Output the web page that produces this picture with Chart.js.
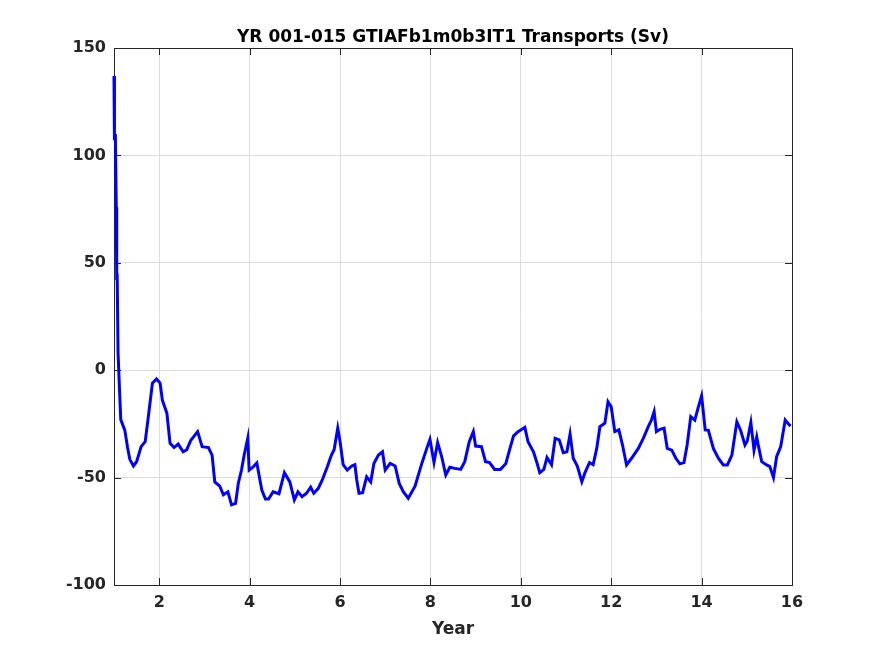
<!DOCTYPE html>
<html>
<head>
<meta charset="utf-8">
<script src="https://cdn.jsdelivr.net/npm/chart.js@4.4.0/dist/chart.umd.min.js"></script>
<style>
  body { margin: 0; background: #fff; }
  #wrap { width: 875px; height: 656px; }
</style>
</head>
<body>
<div id="wrap"><canvas id="myChart" width="875" height="656"></canvas></div>
<script>
// values
const years = [1.00, 1.01, 1.03, 1.05, 1.06, 1.07, 1.09, 1.12, 1.15, 1.24, 1.30, 1.35, 1.43, 1.50, 1.60, 1.69, 1.76, 1.85, 1.94,
  2.02, 2.07, 2.17, 2.24, 2.33, 2.42, 2.53, 2.61, 2.70, 2.85, 2.95, 3.09, 3.17, 3.23, 3.34, 3.42, 3.52, 3.60, 3.69, 3.75,
  3.82, 3.88, 3.96, 3.99, 4.08, 4.16, 4.27, 4.35, 4.42, 4.52, 4.65, 4.77, 4.89, 4.99, 5.07, 5.16, 5.26, 5.35, 5.42, 5.52,
  5.61, 5.72, 5.81, 5.87, 5.95, 6.00, 6.07, 6.16, 6.26, 6.33, 6.37, 6.42, 6.50, 6.59, 6.68, 6.75, 6.85, 6.94, 7.00, 7.11,
  7.22, 7.31, 7.40, 7.51, 7.66, 7.81, 7.92, 7.99, 8.08, 8.16, 8.25, 8.34, 8.43, 8.54, 8.67, 8.76, 8.86, 8.95, 9.00, 9.13,
  9.22, 9.31, 9.42, 9.55, 9.67, 9.76, 9.84, 9.94, 10.09, 10.16, 10.28, 10.35, 10.42, 10.51, 10.58, 10.68, 10.76, 10.85,
  10.94, 11.02, 11.09, 11.16, 11.25, 11.35, 11.42, 11.52, 11.60, 11.68, 11.75, 11.86, 11.93, 12.00, 12.08, 12.17, 12.25,
  12.34, 12.45, 12.60, 12.71, 12.82, 12.89, 12.95, 13.00, 13.08, 13.17, 13.24, 13.34, 13.43, 13.52, 13.61, 13.68, 13.76,
  13.85, 13.93, 14.00, 14.08, 14.15, 14.26, 14.37, 14.48, 14.57, 14.67, 14.78, 14.86, 14.96, 15.01, 15.09, 15.16, 15.22,
  15.26, 15.33, 15.44, 15.51, 15.59, 15.66, 15.75, 15.85, 15.94, 15.97];
const transport = [137, 107, 110, 76, 42, 45, 8, -8, -23, -28, -36, -41.5, -44.6, -42.6, -35.6, -33.3, -21.6, -6, -4.1,
  -6, -14, -20, -34, -36, -34.4, -38, -37, -32.6, -28.6, -35.6, -36, -39.5, -52, -54, -58, -56.6, -62.7, -62, -52.6,
  -46.5, -39.5, -31.6, -46.5, -45, -43.2, -55.8, -60, -60, -56.6, -57.5, -47.7, -52, -60.4, -56.6, -58.9, -57.3, -54.5, -57.3, -55,
  -51, -45, -39.5, -37, -27, -33, -44, -46.5, -44.6, -44, -51, -57.3, -57, -49.6, -52, -43.4, -39.5, -38, -46.5, -43.4,
  -44.6, -52.7, -56.6, -59.6, -54, -43.4, -36.4, -32.2, -43, -33.7, -40.3, -48.8, -45.2, -45.7, -46.2, -42.6, -33.3, -28.6, -35.3, -35.6,
  -42.6, -43, -46.2, -46.2, -43.4, -36.4, -30.6, -28.6, -26.6, -33.3, -38, -42.6, -47.7, -46.2, -40.6, -44, -31.7, -32.4,
  -38.4, -38, -29.7, -41, -44.6, -51.9, -47.7, -43, -44, -36.4, -26.3, -24.7, -14.7, -17, -28.6, -27.8, -34.8,
  -44.1, -41, -36.4, -31.7, -26.3, -23.2, -19.3, -28.6, -27.5, -27, -36.4, -37.2, -41, -43.6, -43, -34.8, -21.6,
  -23.2, -17, -12, -27.8, -28, -36.4, -41, -44.1, -44.1, -39.5, -24, -27.8, -34.8, -33, -24.4, -37.2, -31,
  -35.6, -42.6, -44.1, -44.9, -50, -40.3, -35.6, -23.2, -25.5, -26];
const xTicks = [2, 4, 6, 8, 10, 12, 14, 16];
const yTicks = [-100, -50, 0, 50, 100, 150];

const titleText = 'YR 001-015 GTIAFb1m0b3IT1 Transports (Sv)';
const xLabel = 'Year';
const axisColor = '#262626';

// box round the plot and inward ticks (under the line), title and x label
const matlabFrame = {
  id: 'matlabFrame',
  beforeDatasetsDraw(chart) {
    const { ctx, chartArea: a, scales } = chart;
    ctx.save();
    ctx.strokeStyle = axisColor;
    ctx.lineWidth = 1;
    ctx.strokeRect(a.left + 0.5, a.top + 0.5, a.right - a.left, a.bottom - a.top);
    const len = 7;
    ctx.beginPath();
    xTicks.forEach(v => {
      const x = Math.round(scales.x.getPixelForValue(v)) + 0.5;
      ctx.moveTo(x, a.bottom); ctx.lineTo(x, a.bottom - len);
      ctx.moveTo(x, a.top); ctx.lineTo(x, a.top + len);
    });
    yTicks.forEach(v => {
      const y = Math.round(scales.y.getPixelForValue(v)) + 0.5;
      ctx.moveTo(a.left, y); ctx.lineTo(a.left + len, y);
      ctx.moveTo(a.right, y); ctx.lineTo(a.right - len, y);
    });
    ctx.stroke();
    ctx.restore();
  },
  afterDraw(chart) {
    const { ctx, chartArea: a } = chart;
    const cx = (a.left + a.right) / 2;
    ctx.save();
    ctx.textAlign = 'center';
    ctx.textBaseline = 'alphabetic';
    ctx.fillStyle = '#000';
    ctx.font = 'bold 17px "DejaVu Sans"';
    ctx.fillText(titleText, cx, 42);
    ctx.fillStyle = axisColor;
    ctx.fillText(xLabel, cx, 634);
    ctx.restore();
  }
};

const ctx = document.getElementById('myChart');

new Chart(ctx, {
  type: 'line',
  data: {
    datasets: [{
      label: 'Transport',
      data: years.map((yr, i) => ({ x: yr, y: transport[i] })),
      borderColor: '#0000ff',
      borderWidth: 3,
      pointRadius: 0,
      tension: 0,
      fill: false,
      clip: 2
    }]
  },
  options: {
    responsive: false,
    animation: false,
    devicePixelRatio: 1,
    layout: { padding: { top: 48, right: 83, left: 0, bottom: 0 } },
    plugins: {
      legend: { display: false },
      tooltip: { enabled: false }
    },
    scales: {
      x: {
        type: 'linear',
        min: 1,
        max: 16,
        afterBuildTicks: s => { s.ticks = xTicks.map(v => ({ value: v })); },
        afterFit: s => { s.height = 71; },
        grid: { color: '#dedede', drawTicks: false },
        border: { display: false },
        ticks: { color: axisColor, padding: 8, font: { family: 'DejaVu Sans', size: 16, weight: 'bold' }, maxRotation: 0 }
      },
      y: {
        min: -100,
        max: 150,
        afterBuildTicks: s => { s.ticks = yTicks.map(v => ({ value: v })); },
        afterFit: s => { s.width = 114; },
        grid: { color: '#dedede', drawTicks: false },
        border: { display: false },
        ticks: { color: axisColor, padding: 8, font: { family: 'DejaVu Sans', size: 16, weight: 'bold' } }
      }
    }
  },
  plugins: [matlabFrame]
});
</script>
</body>
</html>
